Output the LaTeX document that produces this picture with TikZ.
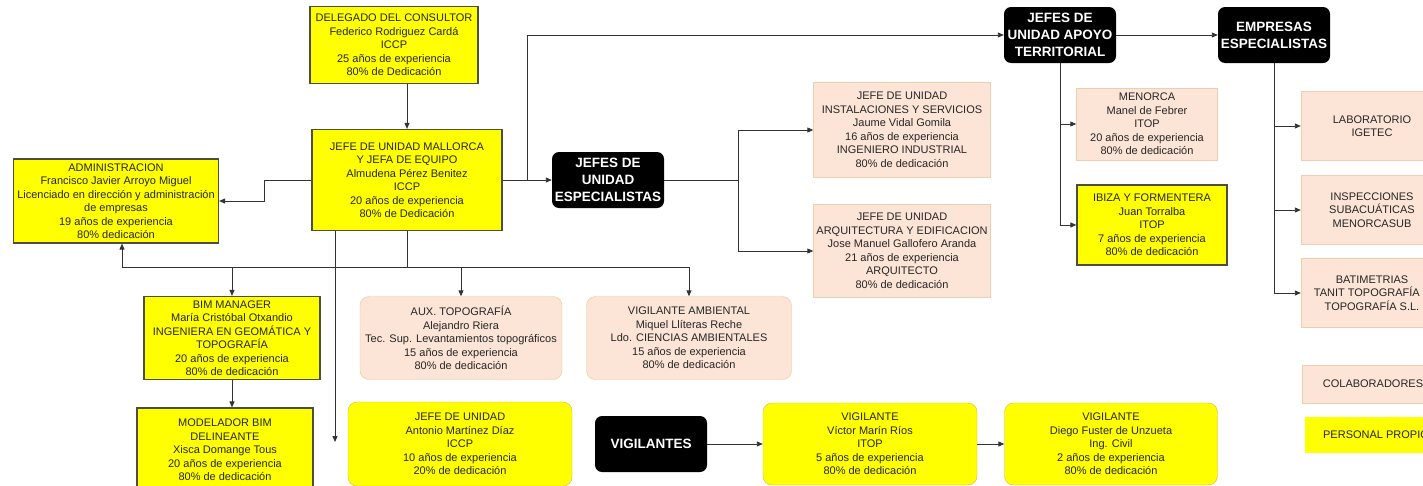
\documentclass[tikz,border=0pt]{standalone}
\usepackage{fontspec}
\setmainfont{Liberation Sans}
\usetikzlibrary{shapes, arrows.meta, positioning}
\definecolor{amarillo}{HTML}{FFFF00}
\definecolor{melocoton}{HTML}{FCE4D6}
\definecolor{bordeoscuro}{HTML}{4D4D40}
\definecolor{bordeoro}{HTML}{D6B656}
\definecolor{bordemel}{HTML}{EBCFAE}
\definecolor{linea}{HTML}{333333}
\tikzstyle{caja} = [align=center, inner sep=0pt, text=black!85, font=\fontsize{11}{13.5}\selectfont]
\tikzstyle{propio} = [caja, draw=bordeoscuro, fill=amarillo, line width=1.2pt]
\tikzstyle{propior} = [caja, draw=bordeoro, fill=amarillo, rounded corners=9pt]
\tikzstyle{colab} = [caja, draw=bordemel, fill=melocoton]
\tikzstyle{colabr} = [colab, draw=bordeoro!70, rounded corners=9pt]
\tikzstyle{jefes} = [fill=black, text=white, align=center, inner sep=0pt, rounded corners=7pt, font=\fontsize{13.5}{17}\selectfont\bfseries, minimum width=112pt, minimum height=56pt]
\tikzstyle{flecha} = [draw=linea, line width=0.9pt, -{Triangle[length=6pt,width=5pt]}]

\begin{document}
\begin{tikzpicture}[x=1pt, y=-1pt]
	\useasboundingbox (0,0) rectangle (1423,485);
	\fill[white] (0,0) rectangle (1423,485);
	\clip (0,0) rectangle (1423,485);
	% personal de Mallorca
	\node[propio, minimum width=168pt, minimum height=77pt] (deleg) at (394,45) {DELEGADO DEL CONSULTOR\\Federico Rodriguez Cardá\\ICCP\\25 años de experiencia\\80\% de Dedicación};
	\node[propio, minimum width=190pt, minimum height=101pt] (mall) at (407,180) {JEFE DE UNIDAD MALLORCA\\Y JEFA DE EQUIPO\\Almudena Pérez Benitez\\ICCP\\20 años de experiencia\\80\% de Dedicación};
	\node[propio, minimum width=205pt, minimum height=84pt] (admin) at (116,201) {ADMINISTRACION\\Francisco Javier Arroyo Miguel\\Licenciado en dirección y administración\\de empresas\\19 años de experiencia\\80\% dedicación};
	\node[propio, minimum width=176pt, minimum height=83pt] (bim) at (232,338) {BIM MANAGER\\María Cristóbal Otxandio\\INGENIERA EN GEOMÁTICA Y\\TOPOGRAFÍA\\20 años de experiencia\\80\% de dedicación};
	\node[propio, minimum width=176pt, minimum height=84pt] (model) at (225,450) {MODELADOR BIM\\DELINEANTE\\Xisca Domange Tous\\20 años de experiencia\\80\% de dedicación};
	\node[colabr, minimum width=202pt, minimum height=83pt] (aux) at (461,338) {AUX. TOPOGRAFÍA\\Alejandro Riera\\Tec. Sup. Levantamientos topográficos\\15 años de experiencia\\80\% de dedicación};
	\node[colabr, minimum width=205pt, minimum height=83pt] (vamb) at (689,338) {VIGILANTE AMBIENTAL\\Miquel Llíteras Reche\\Ldo. CIENCIAS AMBIENTALES\\15 años de experiencia\\80\% de dedicación};
	\node[propior, minimum width=224pt, minimum height=84pt] (jefeu) at (460,444) {JEFE DE UNIDAD\\Antonio Martínez Díaz\\ICCP\\10 años de experiencia\\20\% de dedicación};
	% vigilantes
	\node[jefes] (vig) at (651,444) {VIGILANTES};
	\node[propior, minimum width=214pt, minimum height=82pt] (victor) at (870,444) {VIGILANTE\\Víctor Marín Ríos\\ITOP\\5 años de experiencia\\80\% de dedicación};
	\node[propior, minimum width=213pt, minimum height=82pt] (diego) at (1111,444) {VIGILANTE\\Diego Fuster de Unzueta\\Ing. Civil\\2 años de experiencia\\80\% de dedicación};
	% especialistas
	\node[jefes] (espec) at (608,180) {JEFES DE\\UNIDAD\\ESPECIALISTAS};
	\node[colab, minimum width=177pt, minimum height=95pt] (inst) at (902,130) {JEFE DE UNIDAD\\INSTALACIONES Y SERVICIOS\\Jaume Vidal Gomila\\16 años de experiencia\\INGENIERO INDUSTRIAL\\80\% de dedicación};
	\node[colab, minimum width=177pt, minimum height=93pt] (arq) at (902,251) {JEFE DE UNIDAD\\ARQUITECTURA Y EDIFICACION\\Jose Manuel Gallofero Aranda\\21 años de experiencia\\ARQUITECTO\\80\% de dedicación};
	% apoyo territorial y empresas
	\node[jefes] (apoyo) at (1060,35) {JEFES DE\\UNIDAD APOYO\\TERRITORIAL};
	\node[jefes] (empresas) at (1274,35) {EMPRESAS\\ESPECIALISTAS};
	\node[colab, minimum width=141pt, minimum height=72pt] (menorca) at (1147,124) {MENORCA\\Manel de Febrer\\ITOP\\20 años de experiencia\\80\% de dedicación};
	\node[propio, minimum width=150pt, minimum height=80pt] (ibiza) at (1152,225) {IBIZA Y FORMENTERA\\Juan Torralba\\ITOP\\7 años de experiencia\\80\% de dedicación};
	\node[colab, minimum width=142pt, minimum height=69pt] (lab) at (1372,126) {LABORATORIO\\IGETEC};
	\node[colab, minimum width=142pt, minimum height=69pt] (insp) at (1372,210) {INSPECCIONES\\SUBACUÁTICAS\\MENORCASUB};
	\node[colab, minimum width=142pt, minimum height=69pt] (bat) at (1372,293) {BATIMETRIAS\\TANIT TOPOGRAFÍA Y\\TOPOGRAFÍA S.L.};
	% leyenda
	\node[colab, minimum width=142pt, minimum height=38pt] (leyc) at (1373,384) {COLABORADORES};
	\node[caja, fill=amarillo, minimum width=142pt, minimum height=36pt] (leyp) at (1376,435) {PERSONAL PROPIO};

	\coordinate (bus) at (407,267);
	\coordinate (finjefe) at (335,442);

	\draw[flecha] (deleg.south -| mall.north) -- (mall.north);
	\draw[flecha] (mall.west) -- ++(-47,0) |- (admin.east);
	\draw[flecha] (mall.east) -- (espec.west);
	\draw[flecha] ([xshift=25pt]mall.east) |- (apoyo.west);
	\draw[flecha] (apoyo.east) -- (empresas.west);
	\draw[flecha] (espec.east) -- ++(74,0) |- (inst.west);
	\draw[flecha] (espec.east) -- ++(74,0) |- (arq.west);
	\draw[flecha] (apoyo.south) |- (menorca.west);
	\draw[flecha] (apoyo.south) |- (ibiza.west);
	\draw[flecha] (empresas.south) |- (lab.west);
	\draw[flecha] (empresas.south) |- (insp.west);
	\draw[flecha] (empresas.south) |- (bat.west);
	\draw[flecha] (mall.south -| finjefe) -- (finjefe);
	\draw[flecha] (mall.south) -- (bus) -| ([xshift=6pt]admin.south);
	\draw[flecha] (bus) -| (bim.north);
	\draw[flecha] (bus) -| (aux.north);
	\draw[flecha] (bus) -| (vamb.north);
	\draw[flecha] (bim.south) -- (bim.south |- model.north);
	\draw[flecha] (vig.east) -- (victor.west);
	\draw[flecha] (victor.east) -- (diego.west);
\end{tikzpicture}
\end{document}
